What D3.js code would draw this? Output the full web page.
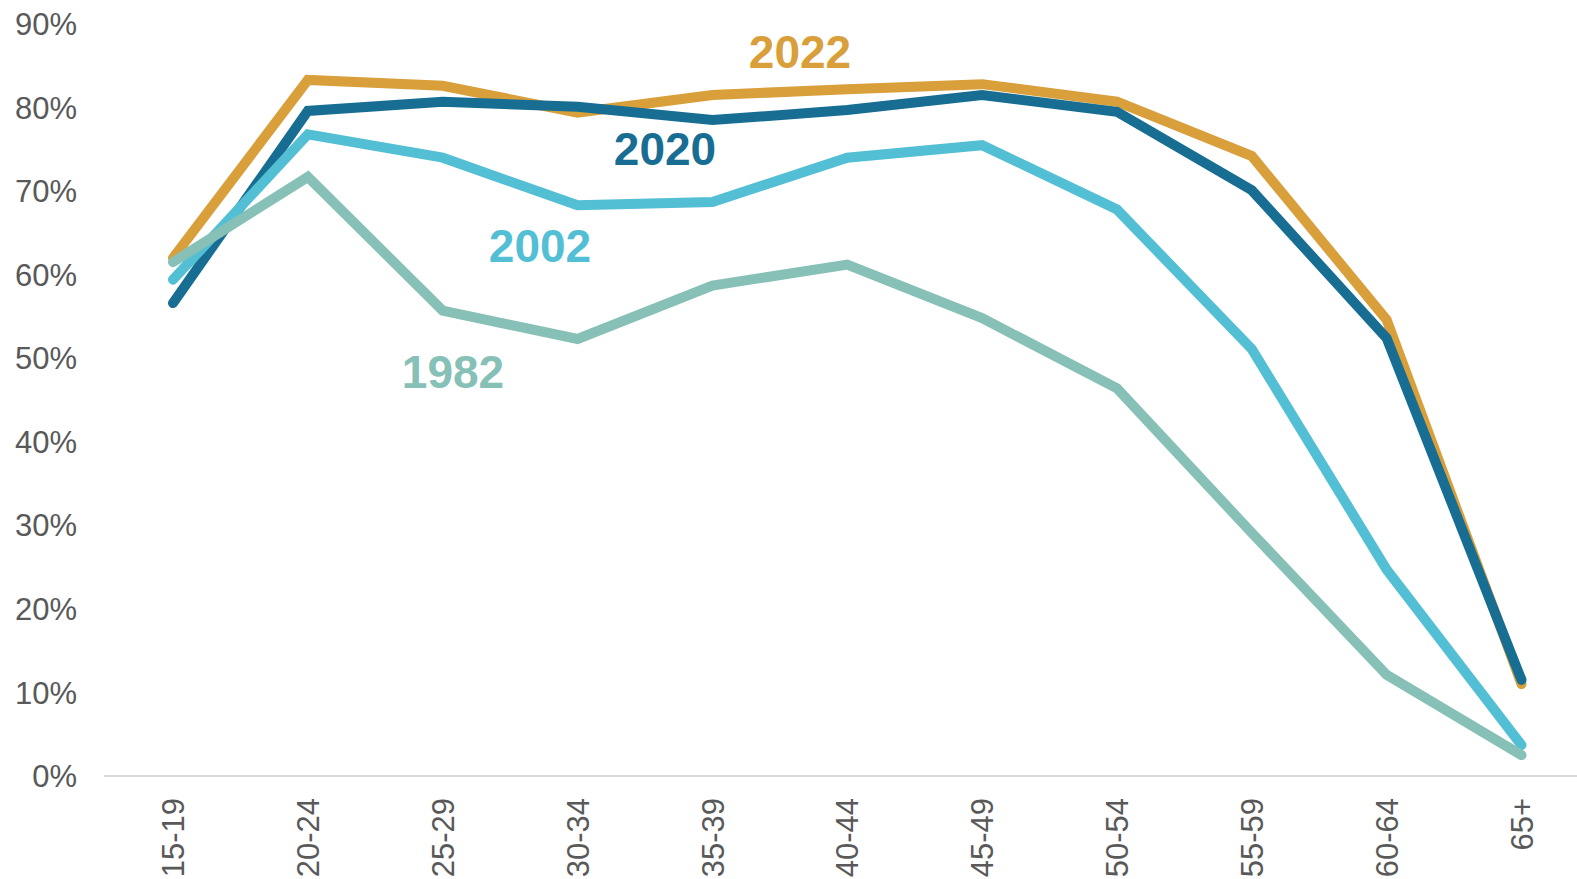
<!DOCTYPE html>
<html>
<head>
<meta charset="utf-8">
<script src="https://cdn.jsdelivr.net/npm/d3@7"></script>
<style>
  html, body { margin: 0; padding: 0; background: #fff; }
  svg { display: block; }
</style>
</head>
<body>
<div id="app"></div>
<script>
// age groups on the x axis
const ageGroups = ["15-19", "20-24", "25-29", "30-34", "35-39", "40-44", "45-49", "50-54", "55-59", "60-64", "65+"];

// participation rate (%) per age group, one array per year
const y2022 = [62.0, 83.3, 82.6, 79.4, 81.5, 82.2, 82.8, 80.7, 74.2, 54.6, 11.0];
const y2020 = [56.6, 79.6, 80.7, 80.1, 78.5, 79.7, 81.5, 79.5, 70.1, 52.4, 11.5];
const y2002 = [59.4, 76.8, 74.0, 68.3, 68.7, 74.0, 75.5, 67.8, 51.1, 24.7, 3.7];
const y1982 = [61.5, 71.7, 55.7, 52.3, 58.7, 61.2, 54.8, 46.4, 29.1, 12.1, 2.5];

const yTicks = [0, 10, 20, 30, 40, 50, 60, 70, 80, 90];

const width = 1577, height = 879;
const font = "'Liberation Sans', Arial, Helvetica, sans-serif";

const svg = d3.select("#app")
    .append("svg")
    .attr("width", width)
    .attr("height", height);

const x = d3.scalePoint()
    .domain(ageGroups)
    .range([173, 1521.5]);

const y = d3.scaleLinear()
    .domain([0, 90])
    .range([776, 24]);

// y axis labels (no axis line, no grid)
svg.append("g")
    .selectAll("text")
    .data(yTicks)
    .join("text")
    .attr("x", 77)
    .attr("y", d => y(d))
    .attr("dy", "0.36em")
    .attr("text-anchor", "end")
    .attr("font-family", font)
    .attr("font-size", 31)
    .attr("fill", "#595959")
    .text(d => d + "%");

// baseline
svg.append("line")
    .attr("x1", 104)
    .attr("x2", width)
    .attr("y1", y(0))
    .attr("y2", y(0))
    .attr("stroke", "#d9d9d9")
    .attr("stroke-width", 2);

// x labels, rotated
svg.append("g")
    .selectAll("text")
    .data(ageGroups)
    .join("text")
    .attr("transform", d => `translate(${x(d)}, 798) rotate(-90)`)
    .attr("dy", "0.36em")
    .attr("text-anchor", "end")
    .attr("font-family", font)
    .attr("font-size", 31)
    .attr("fill", "#595959")
    .text(d => d);

// drawn bottom to top: 2022 first, 1982 last
const series = [
  { name: "2022", values: y2022, color: "#d89f3a", lx: 800, ly: 68 },
  { name: "2020", values: y2020, color: "#176e92", lx: 665, ly: 165 },
  { name: "2002", values: y2002, color: "#52bfd4", lx: 540, ly: 262 },
  { name: "1982", values: y1982, color: "#86c0b6", lx: 453, ly: 388 }
];

const line = d3.line()
    .x((d, i) => x(ageGroups[i]))
    .y(d => y(d));

svg.append("g")
    .selectAll("path")
    .data(series)
    .join("path")
    .attr("d", d => line(d.values))
    .attr("fill", "none")
    .attr("stroke", d => d.color)
    .attr("stroke-width", 10)
    .attr("stroke-linecap", "round")
    .attr("stroke-linejoin", "miter");

// year labels
svg.append("g")
    .selectAll("text")
    .data(series)
    .join("text")
    .attr("x", d => d.lx)
    .attr("y", d => d.ly)
    .attr("text-anchor", "middle")
    .attr("font-family", font)
    .attr("font-weight", "bold")
    .attr("font-size", 46)
    .attr("fill", d => d.color)
    .text(d => d.name);
</script>
</body>
</html>
